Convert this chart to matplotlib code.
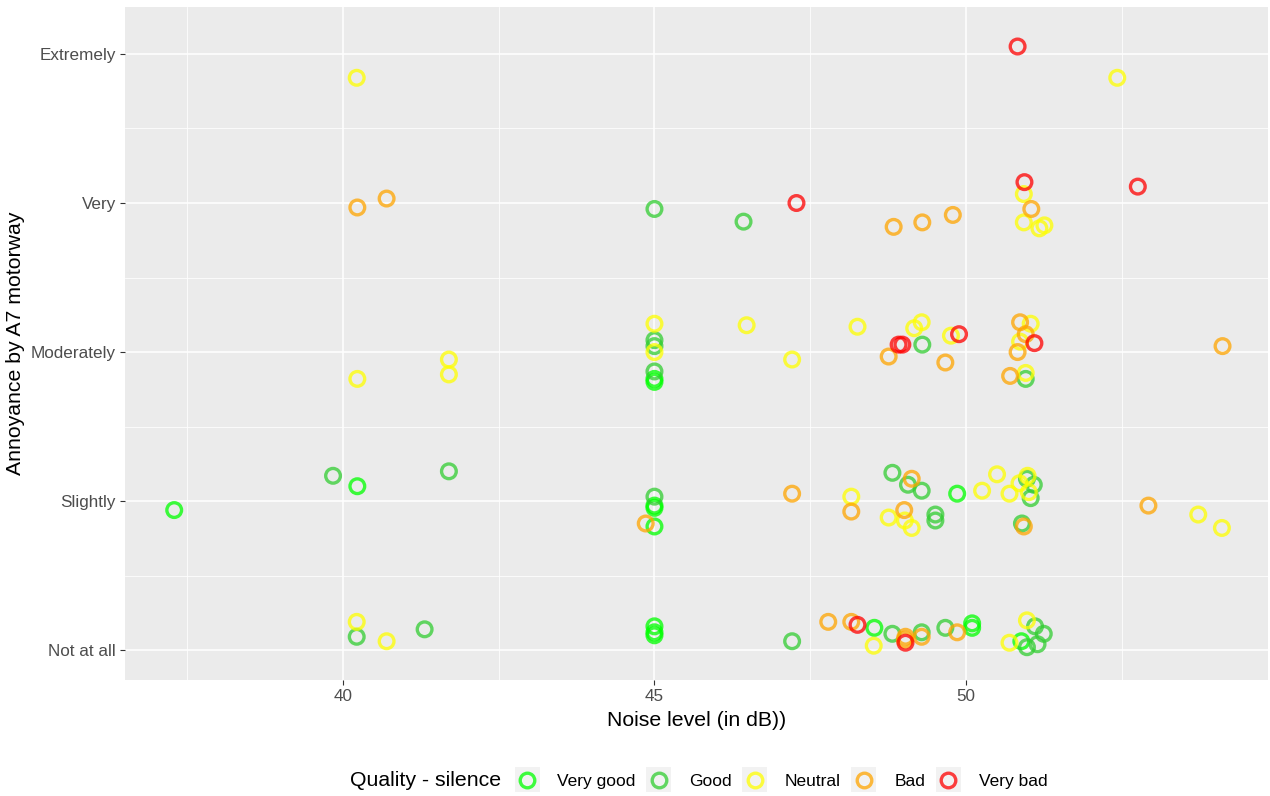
import numpy as np
import matplotlib.pyplot as plt
from matplotlib.lines import Line2D
from matplotlib.patches import Rectangle

plt.rcParams['font.family'] = ['Liberation Sans', 'DejaVu Sans']

# === DATA (jittered positions) ===
levels = ["Not at all", "Slightly", "Moderately", "Very", "Extremely"]
quality = ["Very good", "Good", "Neutral", "Bad", "Very bad"]
colors = {"Very good": "#00ff00", "Good": "#32cd32", "Neutral": "#ffff00",
          "Bad": "#ffa500", "Very bad": "#ff0000"}

very_good_x = [37.29, 40.23, 45.0, 45.0, 45.0, 49.86, 45.0, 45.0, 45.0,
               45.0, 45.0, 48.53, 50.10, 50.10, 50.89]
very_good_y = [1.94, 2.10, 1.97, 1.955, 1.83, 2.05, 2.82, 2.80, 1.16,
               1.12, 1.10, 1.15, 1.18, 1.15, 1.06]

good_x = [45.0, 46.43, 45.0, 45.0, 45.0, 49.30, 50.96, 39.84, 41.70, 45.0,
          48.82, 49.07, 49.29, 49.51, 49.51, 50.98, 51.09, 51.04, 50.90,
          40.22, 41.31, 47.21, 48.82, 49.29, 49.67, 51.11, 51.25, 50.98, 51.15]
good_y = [3.96, 3.875, 3.08, 3.04, 2.87, 3.05, 2.82, 2.17, 2.20, 2.03,
          2.19, 2.11, 2.07, 1.91, 1.87, 2.15, 2.11, 2.02, 1.85,
          1.09, 1.14, 1.06, 1.11, 1.12, 1.15, 1.16, 1.11, 1.02, 1.04]

neutral_x = [40.22, 52.43, 50.93, 50.93, 51.18, 51.26, 40.23, 41.70, 41.70,
             45.0, 45.0, 46.48, 47.21, 48.26, 49.17, 49.29, 49.76, 51.04,
             50.87, 50.96, 48.16, 48.76, 49.02, 49.13, 50.26, 50.50, 50.70,
             50.86, 50.99, 51.01, 53.73, 54.11, 40.22, 40.70, 48.52, 50.98,
             50.70]
neutral_y = [4.84, 4.84, 4.06, 3.87, 3.83, 3.85, 2.82, 2.95, 2.85,
             3.19, 3.0, 3.18, 2.95, 3.17, 3.16, 3.20, 3.11, 3.19,
             3.07, 2.86, 2.03, 1.89, 1.87, 1.82, 2.07, 2.18, 2.05,
             2.12, 2.17, 2.06, 1.91, 1.82, 1.19, 1.06, 1.03, 1.20,
             1.05]

bad_x = [40.23, 40.70, 48.84, 49.30, 49.79, 51.05, 48.76, 49.67, 50.87,
         50.96, 50.83, 50.71, 54.12, 44.86, 47.21, 48.16, 49.13, 49.01,
         50.93, 52.93, 47.79, 48.16, 49.03, 49.02, 49.29, 49.86]
bad_y = [3.97, 4.03, 3.84, 3.87, 3.92, 3.96, 2.97, 2.93, 3.20,
         3.12, 3.0, 2.84, 3.04, 1.85, 2.05, 1.93, 2.15, 1.94,
         1.83, 1.97, 1.19, 1.19, 1.09, 1.07, 1.09, 1.12]

very_bad_x = [50.83, 47.28, 50.94, 52.76, 48.92, 48.98, 49.89, 51.10,
              48.26, 49.03]
very_bad_y = [5.05, 4.0, 4.14, 4.11, 3.05, 3.05, 3.12, 3.06,
              1.17, 1.05]

series = {
    "Very good": (very_good_x, very_good_y),
    "Good": (good_x, good_y),
    "Neutral": (neutral_x, neutral_y),
    "Bad": (bad_x, bad_y),
    "Very bad": (very_bad_x, very_bad_y),
}

# === PLOT ===
fig = plt.figure(figsize=(12.7, 7.96), dpi=100)
ax = fig.add_axes([125 / 1270, 1 - 680 / 796, (1268 - 125) / 1270, (680 - 7) / 796])
ax.set_facecolor("#ebebeb")
for s in ax.spines.values():
    s.set_visible(False)

ax.set_xlim(36.5, 54.85)
ax.set_ylim(0.80, 5.315)
ax.set_xticks([40, 45, 50])
ax.set_xticks([37.5, 42.5, 47.5, 52.5], minor=True)
ax.set_yticks([1, 2, 3, 4, 5])
ax.set_yticklabels(levels)
ax.set_yticks([1.5, 2.5, 3.5, 4.5], minor=True)
ax.grid(True, which="major", color="white", linewidth=1.1)
ax.grid(True, which="minor", color="white", linewidth=0.55)
ax.set_axisbelow(True)
ax.tick_params(which="major", length=3.5, width=0.8, color="#333333",
               labelsize=12.3, labelcolor="#4d4d4d", pad=3)
ax.tick_params(which="minor", length=0)

for q in quality:
    xs, ys = series[q]
    ax.scatter(xs, ys, s=112, facecolors="none", edgecolors=colors[q],
               linewidths=2.4, alpha=0.75, zorder=3)

ax.set_xlabel("Noise level (in dB))", fontsize=15.3, labelpad=5)
ax.set_ylabel("Annoyance by A7 motorway", fontsize=15.3, labelpad=4)

# legend at the bottom, title on the left
fig.text(350 / 1270, 1 - 781 / 796, "Quality - silence", fontsize=15.3,
         va="center", ha="left")
handles = [Line2D([], [], linestyle="none", marker="o", markersize=10.5,
                  markerfacecolor="none", markeredgecolor=colors[q],
                  markeredgewidth=2.4, alpha=0.75) for q in quality]
leg = fig.legend(handles, quality, loc="center left",
                 bbox_to_anchor=(508 / 1270, 1 - 781 / 796), ncol=5,
                 frameon=False, fontsize=12.5, handlelength=1.2,
                 handletextpad=1.15, columnspacing=0.72, borderpad=0)

fig.canvas.draw()
inv = fig.transFigure.inverted()
for h in leg.legend_handles:
    bb = h.get_window_extent(fig.canvas.get_renderer())
    cx, cy = (bb.x0 + bb.x1) / 2, (bb.y0 + bb.y1) / 2
    (x0, y0) = inv.transform((cx - 12.5, cy - 12.5))
    (x1, y1) = inv.transform((cx + 12.5, cy + 12.5))
    fig.patches.append(Rectangle((x0, y0), x1 - x0, y1 - y0,
                                 transform=fig.transFigure,
                                 facecolor="#f2f2f2", edgecolor="none",
                                 zorder=0))

fig.savefig("out.png", dpi=100)
